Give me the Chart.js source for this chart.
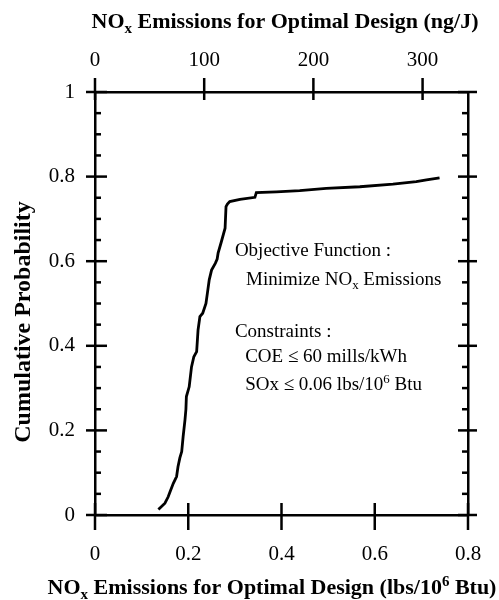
<!DOCTYPE html>
<html>
<head>
<meta charset="utf-8">
<script src="https://cdn.jsdelivr.net/npm/chart.js@4"></script>
<style>
html,body{margin:0;padding:0;background:#fff;}
#wrap{width:499px;height:600px;}
</style>
</head>
<body>
<div id="wrap"><canvas id="c" width="499" height="600"></canvas></div>
<script>
// ---- data ----
const noxLbs = [0.136,0.150,0.157,0.161,0.168,0.175,0.178,0.182,0.186,0.189,0.193,0.195,0.196,0.202,0.207,0.212,0.218,0.221,0.225,0.231,0.238,0.241,0.245,0.250,0.258,0.262,0.264,0.271,0.279,0.281,0.284,0.289,0.311,0.343,0.346,0.389,0.439,0.496,0.568,0.639,0.689,0.711,0.739];
const cumProb = [0.013,0.028,0.043,0.055,0.075,0.091,0.114,0.135,0.150,0.185,0.225,0.250,0.280,0.303,0.350,0.374,0.386,0.437,0.469,0.477,0.500,0.524,0.556,0.579,0.595,0.605,0.619,0.646,0.678,0.729,0.735,0.741,0.746,0.751,0.762,0.764,0.767,0.772,0.776,0.782,0.788,0.792,0.797];
const xTicks = [0,0.2,0.4,0.6,0.8];
const yTicks = [0,0.2,0.4,0.6,0.8,1];
const yMinorTicks = [0.05,0.1,0.15,0.25,0.3,0.35,0.45,0.5,0.55,0.65,0.7,0.75,0.85,0.9,0.95];
const ngTicks = [0,100,200,300];
const ngPerLbs = 427;
const xMax = 0.8;

const SERIF = '"Liberation Serif", "Times New Roman", serif';

function richWidth(ctx, segs, size, weight){
  let w=0;
  segs.forEach(s=>{
    const fs = (s.sub||s.sup)? size*0.68 : size;
    ctx.font = weight+' '+fs+'px '+SERIF;
    w += ctx.measureText(s.t).width;
  });
  return w;
}
function drawRich(ctx, segs, x, y, size, weight, align){
  let w = richWidth(ctx, segs, size, weight);
  let cx = align==='center' ? x - w/2 : x;
  ctx.textBaseline='alphabetic'; ctx.textAlign='left'; ctx.fillStyle='#000';
  segs.forEach(s=>{
    const fs = (s.sub||s.sup)? size*0.68 : size;
    ctx.font = weight+' '+fs+'px '+SERIF;
    let dy = s.sub ? size*0.22 : (s.sup ? -size*0.38 : 0);
    ctx.fillText(s.t, cx, y+dy);
    cx += ctx.measureText(s.t).width;
  });
}

const overlay = {
  id:'overlay',
  afterDraw(chart){
    const {ctx, chartArea:a, scales} = chart;
    const x = scales.x, y = scales.y, x2 = scales.x2;
    ctx.save();
    ctx.strokeStyle='#000'; ctx.lineWidth=2.5; ctx.lineCap='butt';
    const seg=(p1,q1,p2,q2)=>{ctx.beginPath();ctx.moveTo(p1,q1);ctx.lineTo(p2,q2);ctx.stroke();};
    yTicks.forEach(v=>{const p=y.getPixelForValue(v); seg(a.left-9,p,a.left+12,p); seg(a.right-10,p,a.right+9,p);});
    yMinorTicks.forEach(v=>{const p=y.getPixelForValue(v); seg(a.left,p,a.left+6,p); seg(a.right-6,p,a.right,p);});
    xTicks.forEach(v=>{const p=x.getPixelForValue(v); seg(p,a.bottom-12,p,a.bottom+15);});
    ngTicks.forEach(v=>{const p=x2.getPixelForValue(v); seg(p,a.top-14,p,a.top+8);});

    // axis titles
    drawRich(ctx,[{t:'NO'},{t:'x',sub:true},{t:' Emissions for Optimal Design (ng/J)'}],285,28,22,'bold','center');
    drawRich(ctx,[{t:'NO'},{t:'x',sub:true},{t:' Emissions for Optimal Design (lbs/10'},{t:'6',sup:true},{t:' Btu)'}],272,594,22,'bold','center');
    ctx.save();
    ctx.translate(30,322); ctx.rotate(-Math.PI/2);
    drawRich(ctx,[{t:'Cumulative Probability'}],0,0,24,'bold','center');
    ctx.restore();

    // annotation
    const ax = v=>x.getPixelForValue(v);
    const ay = v=>y.getPixelForValue(v);
    drawRich(ctx,[{t:'Objective Function :'}],ax(0.30),ay(0.613),19,'normal','left');
    drawRich(ctx,[{t:'Minimize NO'},{t:'x',sub:true},{t:' Emissions'}],ax(0.324),ay(0.544),19,'normal','left');
    drawRich(ctx,[{t:'Constraints :'}],ax(0.30),ay(0.421),19,'normal','left');
    drawRich(ctx,[{t:'COE \u2264 60 mills/kWh'}],ax(0.322),ay(0.362),19,'normal','left');
    drawRich(ctx,[{t:'SOx \u2264 0.06 lbs/10'},{t:'6',sup:true},{t:' Btu'}],ax(0.322),ay(0.296),19,'normal','left');
    ctx.restore();
  }
};

const tickFont = {family:SERIF, size:21};
const setTicks = arr => (s)=>{ s.ticks = arr.map(v=>({value:v})); };

new Chart(document.getElementById('c'),{
  type:'scatter',
  data:{datasets:[{
    data: noxLbs.map((v,i)=>({x:v,y:cumProb[i]})),
    showLine:true, borderColor:'#000', borderWidth:2.8, pointRadius:0, tension:0, fill:false
  }]},
  options:{
    responsive:false, animation:false, devicePixelRatio:1,
    layout:{padding:0},
    plugins:{legend:{display:false}, tooltip:{enabled:false}},
    scales:{
      x:{type:'linear', position:'bottom', min:0, max:xMax,
         afterBuildTicks:setTicks(xTicks), afterFit:s=>{s.height=85;},
         grid:{display:false, drawTicks:true, tickLength:24},
         border:{display:true, color:'#000', width:2.5},
         ticks:{font:tickFont, color:'#000', padding:3, maxRotation:0, callback:v=>String(v)}},
      x2:{type:'linear', position:'top', min:0, max:xMax*ngPerLbs,
         afterBuildTicks:setTicks(ngTicks), afterFit:s=>{s.height=92;},
         grid:{display:false, drawTicks:true, tickLength:16},
         border:{display:true, color:'#000', width:2.5},
         ticks:{font:tickFont, color:'#000', padding:3, maxRotation:0, callback:v=>String(v)}},
      y:{type:'linear', position:'left', min:0, max:1,
         afterBuildTicks:setTicks(yTicks), afterFit:s=>{s.width=95;},
         grid:{display:false, drawTicks:false},
         border:{display:true, color:'#000', width:2.5},
         ticks:{font:tickFont, color:'#000', padding:20, callback:v=>String(v)}},
      y2:{type:'linear', position:'right', min:0, max:1,
         afterFit:s=>{s.width=31;},
         grid:{display:false, drawTicks:false},
         border:{display:true, color:'#000', width:2.5},
         ticks:{display:false}}
    }
  },
  plugins:[overlay]
});
</script>
</body>
</html>
